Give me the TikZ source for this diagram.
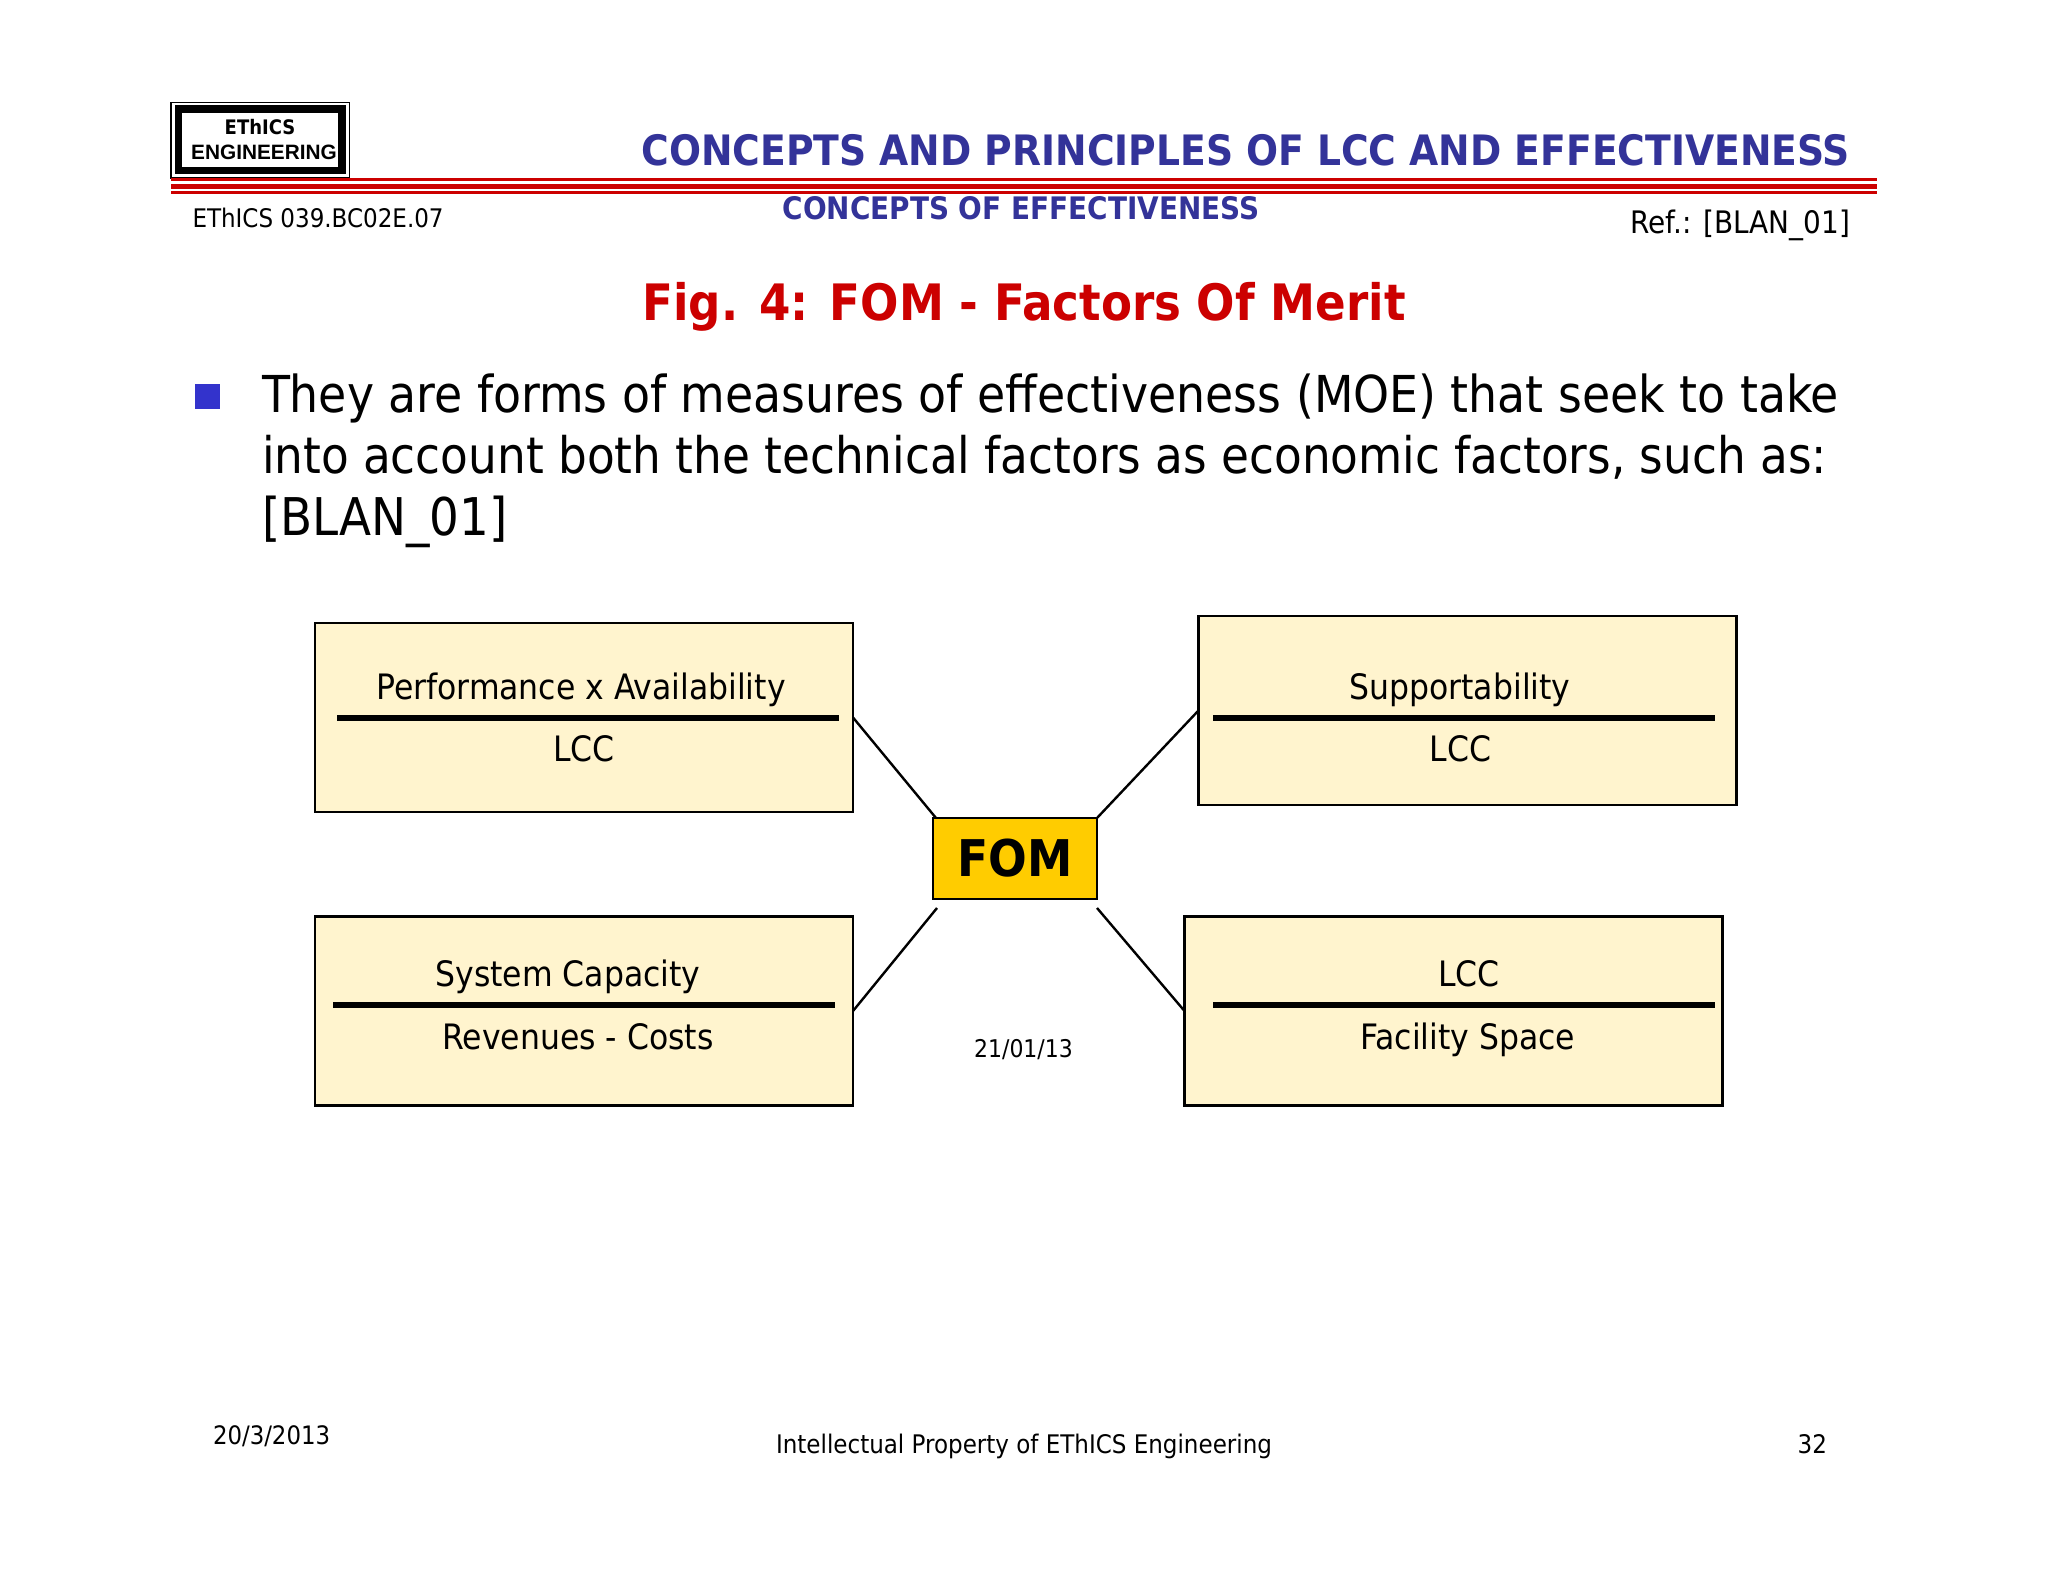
\documentclass[tikz,border=0pt]{standalone}
\usepackage{fontspec}
\setmainfont{DejaVu Sans Condensed}
\newfontfamily\logofont{Liberation Sans}
\definecolor{hdrblue}{HTML}{333399}
\definecolor{hdrred}{HTML}{CC0000}
\definecolor{bulletblue}{HTML}{3333CC}
\definecolor{boxfill}{HTML}{FFF4CE}
\definecolor{fomfill}{HTML}{FFCC00}
\newcommand{\fsz}[1]{\fontsize{#1pt}{#1pt}\selectfont}
\tikzset{
  txt/.style={inner sep=0pt,outer sep=0pt,anchor=base west,text=black},
  txtr/.style={inner sep=0pt,outer sep=0pt,anchor=base east,text=black},
  txtc/.style={inner sep=0pt,outer sep=0pt,anchor=base,text=black},
  factorbox/.style={draw=black,line width=1.2pt,fill=boxfill,minimum width=269pt,minimum height=94.5pt,inner sep=0pt,outer sep=0pt},
  fracbar/.style={line width=2.7pt,black},
  conn/.style={line width=1.2pt,black},
  boxtext/.style={txtc,font=\fsz{17.5}},
  redrule/.style={fill=hdrred,draw=none}
}
\begin{document}
\begin{tikzpicture}[x=0.5pt,y=-0.5pt]
\useasboundingbox[fill=white] (0,0) rectangle (2048,1582);
% logo
\draw[black,line width=0.7pt] (171,102.5) rectangle (349.5,178);
\fill[black] (175,105) rectangle (345.5,174.3);
\fill[white] (182,113) rectangle (338,166.7);
\node[txtc,font=\fsz{10}\bfseries] (logoa) at (260,135) {EThICS};
\node[txtc,font=\logofont\fsz{10.4}\bfseries] (logob) at (264,160) {ENGINEERING};
% rules
\fill[redrule] (171,178) rectangle (1877,180.7);
\fill[redrule] (171,183.7) rectangle (1877,189);
\fill[redrule] (171,191.3) rectangle (1877,193.7);
% header
\node[txtr,text=hdrblue,font=\fsz{20.95}\bfseries] (title) at (1850,165.5) {CONCEPTS AND PRINCIPLES OF LCC AND EFFECTIVENESS};
\node[txtc,text=hdrblue,font=\fsz{15.5}\bfseries] (sub) at (1021,220) {CONCEPTS OF EFFECTIVENESS};
\node[txt,font=\fsz{12.8}] (code) at (192.5,228) {EThICS 039.BC02E.07};
\node[txtr,font=\fsz{15.5}] (ref) at (1850,233.5) {Ref.: [BLAN\_01]};
\node[txtc,text=hdrred,font=\fsz{25.1}\bfseries] (fig) at (1024,321) {Fig. 4: FOM - Factors Of Merit};
% body
\fill[bulletblue] (195,384) rectangle (220,409);
\node[txt,font=\fsz{25.45}] (l1) at (262,413) {They are forms of measures of effectiveness (MOE) that seek to take};
\node[txt,font=\fsz{25.2}] (l2) at (262,474) {into account both the technical factors as economic factors, such as:};
\node[txt,font=\fsz{26}] (l3) at (262,536) {[BLAN\_01]};
% boxes
\node[factorbox] (tl) at (584,717.5) {};
\node[factorbox] (tr) at (1467.5,710.5) {};
\node[factorbox] (bl) at (584,1011) {};
\node[factorbox] (br) at (1453.5,1011) {};
\node[draw=black,line width=1.2pt,fill=fomfill,minimum width=82pt,minimum height=40.5pt,inner sep=0pt,outer sep=0pt,font=\fsz{25.3}\bfseries] (fom) at (1015,858.5) {FOM};
% connectors
\coordinate (fomnw) at (936,818);
\coordinate (fomsw) at (937,908);
\coordinate (fomse) at (1097,908);
\draw[conn] (tl.east) -- (fomnw);
\draw[conn] (tr.west) -- (fom.north east);
\draw[conn] (bl.east) -- (fomsw);
\draw[conn] (br.west) -- (fomse);
% fraction bars
\coordinate (tla) at (337,718); \coordinate (tlb) at (839,718);
\coordinate (tra) at (1213,718); \coordinate (trb) at (1715,718);
\coordinate (bla) at (333,1005); \coordinate (blb) at (835,1005);
\coordinate (bra) at (1213,1005); \coordinate (brb) at (1715,1005);
\draw[fracbar] (tla) -- (tlb);
\draw[fracbar] (tra) -- (trb);
\draw[fracbar] (bla) -- (blb);
\draw[fracbar] (bra) -- (brb);
% box text
\node[boxtext] (t1) at (581,699.5) {Performance x Availability};
\node[boxtext] (t2) at (584,761.5) {LCC};
\node[boxtext] (t3) at (1460,699.5) {Supportability};
\node[boxtext] (t4) at (1460.5,761.5) {LCC};
\node[boxtext] (t5) at (568,986) {System Capacity};
\node[boxtext] (t6) at (578,1049) {Revenues - Costs};
\node[boxtext] (t7) at (1469,986) {LCC};
\node[boxtext] (t8) at (1468,1049) {Facility Space};
% footer
\node[txtc,font=\fsz{12.2}] (d1) at (1023.5,1057) {21/01/13};
\node[txt,font=\fsz{12.7}] (d2) at (213,1444.5) {20/3/2013};
\node[txt,font=\fsz{12.8}] (ip) at (776,1453) {Intellectual Property of EThICS Engineering};
\node[txtr,font=\fsz{12.8}] (pg) at (1827,1453) {32};
\end{tikzpicture}
\end{document}
